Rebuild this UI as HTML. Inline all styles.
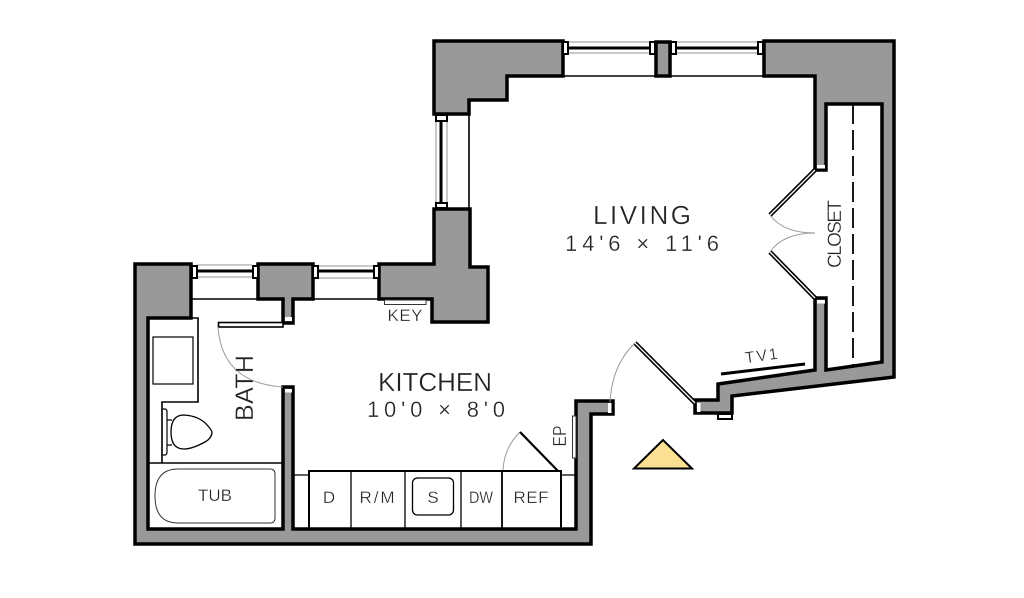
<!DOCTYPE html>
<html><head><meta charset="utf-8"><style>
html,body{margin:0;padding:0;background:#fff;width:1024px;height:598px;overflow:hidden}
svg{display:block}
text{font-family:"Liberation Sans",sans-serif;fill:#222;text-anchor:middle;stroke:#fff;stroke-width:.3;paint-order:fill}
.w{fill:#999;stroke:#000;stroke-width:3.5;stroke-linejoin:miter}
.c{fill:#fff;stroke:#000;stroke-width:2}
.g{stroke:#aaa;stroke-width:1.3;fill:none}
.t{stroke:#000;stroke-width:1.6;fill:none}
.k{stroke:#000;stroke-width:3;fill:none}
.a{stroke:#999;stroke-width:1;fill:none}
</style></head><body>
<svg width="1024" height="598" viewBox="0 0 1024 598" xmlns="http://www.w3.org/2000/svg">
<rect width="1024" height="598" fill="#fff"/>
<!-- windows -->
<path class="g" d="M568 42H757M568 53H757M436 121V203M447 121V203M197 265H252M197 277H252M318 266H373M318 278H373"/>
<path class="k" d="M568 48H650M676 48H758M441 120V204M197 271H253M318 271H374"/>
<path class="t" d="M563 76H765M469 114V209M191 299H258M313 299H379"/>
<!-- walls -->
<polygon class="w" points="434,41 563,41 563,76 507,76 507,100 469,100 469,114 434,114"/>
<rect class="w" x="656" y="42" width="14" height="34"/>
<polygon class="w" points="764,41 894,41 894,377 732,396 732,413 695,413 695,400 718,400 718,384 815,370 815,298 826,298 826,370 882,362 882,104 826,104 826,170 815,170 815,76 764,76"/>
<polygon class="w" points="135,544 591,544 591,414 613,414 613,401 576,401 576,529 293,529 293,387 283,387 283,529 148,529 148,318 191,318 191,264 135,264"/>
<polygon class="w" points="258,264 313,264 313,299 293,299 293,323 283,323 283,299 258,299"/>
<polygon class="w" points="379,264 434,264 434,209 470,209 470,267 488,267 488,322 432,322 432,299 379,299"/>
<!-- window caps -->
<rect class="c" x="563" y="42" width="5" height="12"/>
<rect class="c" x="650" y="42" width="5" height="12"/>
<rect class="c" x="671" y="42" width="5" height="12"/>
<rect class="c" x="758" y="42" width="5" height="12"/>
<rect class="c" x="436" y="115" width="11" height="6"/>
<rect class="c" x="436" y="203" width="11" height="5"/>
<rect class="c" x="192" y="266" width="5" height="12"/>
<rect class="c" x="253" y="266" width="5" height="12"/>
<rect class="c" x="313" y="266" width="5" height="12"/>
<rect class="c" x="374" y="266" width="5" height="12"/>
<!-- door caps -->
<rect x="285" y="317" width="7" height="4" fill="#fff"/>
<rect x="285" y="389" width="7" height="3.500" fill="#fff"/>
<rect x="817" y="165" width="8" height="3.500" fill="#fff"/>
<rect x="817" y="300" width="8" height="3.500" fill="#fff"/>
<rect x="697" y="403" width="3.500" height="9" fill="#fff"/>
<rect x="608" y="403" width="3.500" height="10" fill="#fff"/>
<rect class="c" x="718" y="414" width="14" height="5"/>
<!-- doors -->
<path d="M815 170L770 215M815 298L770 252M695 403L635 343" stroke="#000" stroke-width="4.500" fill="none"/>
<path d="M815 170L770 215M815 298L770 252M695 403L635 343" stroke="#fff" stroke-width="1.300" fill="none"/>
<rect x="218.500" y="322.500" width="64.500" height="4.500" fill="#fff" stroke="#000" stroke-width="1.600"/>
<path class="a" d="M770 215Q783 233 815 233Q783 233 770 252"/>
<path class="a" d="M635 343Q612 365 610 402"/>
<path class="a" d="M218 327Q222 383 283 387"/>
<path class="a" d="M520 432Q504 448 503 470"/>
<!-- closet dashes -->
<line x1="853" y1="104" x2="853" y2="368" stroke="#000" stroke-width="1.800" stroke-dasharray="20 6"/>
<!-- TV line -->
<line x1="721" y1="374" x2="805" y2="364" stroke="#000" stroke-width="3"/>
<!-- key and EP -->
<rect x="384.500" y="300" width="41.500" height="4.500" fill="#fff" stroke="#333" stroke-width="1"/>
<rect x="572.500" y="416" width="3.500" height="42" fill="#fff" stroke="#333" stroke-width="1"/>
<!-- triangle -->
<polygon points="663,440 634,468.500 692,468.500" fill="#fbdf93" stroke="#000" stroke-width="2"/>
<!-- bathroom fixtures -->
<path class="t" d="M148 318H198V402H162V463M148 463H283" stroke-width="1.400"/>
<rect x="153" y="337" width="40" height="47" fill="none" stroke="#000" stroke-width="1.200"/>
<path d="M162.500 409H165Q167 409 167 412V452Q167 455 165 455H162.500" fill="none" stroke="#000" stroke-width="1.200"/>
<path d="M167 420H172M167 445H172" stroke="#000" stroke-width="1.200"/>
<path d="M171 432Q171 415 184 415Q200 416 208 426Q212 431 212 432Q212 438 205 442Q192 449 184 449Q171 449 171 432Z" fill="#fff" stroke="#000" stroke-width="1.300"/>
<path d="M178 469H270Q275 469 275 474V518Q275 523 270 523H178Q155 523 155 496Q155 469 178 469Z" fill="none" stroke="#333" stroke-width="1"/>
<!-- kitchen fixtures -->
<path d="M293 475H309M561 475H577" stroke="#000" stroke-width="1.200"/>
<path d="M309 529V471H561V529" fill="none" stroke="#000" stroke-width="2"/>
<path d="M351 471V529M405 471V529M461 471V529" stroke="#000" stroke-width="1.300"/>
<path d="M502 471V529" stroke="#000" stroke-width="1.800"/>
<rect x="412.500" y="478" width="41" height="37" rx="5" fill="none" stroke="#000" stroke-width="1.300"/>
<line x1="520" y1="432" x2="558" y2="471" stroke="#000" stroke-width="2.200"/>
<!-- text -->
<text x="642" y="224" font-size="26" textLength="98" lengthAdjust="spacing">LIVING</text>
<text x="642" y="251" font-size="22" textLength="154" lengthAdjust="spacing">14'6 × 11'6</text>
<text x="435" y="391" font-size="26" textLength="114" lengthAdjust="spacing">KITCHEN</text>
<text x="436" y="417" font-size="22" textLength="138" lengthAdjust="spacing">10'0 × 8'0</text>
<text transform="translate(253,388) rotate(-90)" font-size="25" textLength="66" lengthAdjust="spacing">BATH</text>
<text transform="translate(841,234) rotate(-90)" font-size="19" textLength="68" lengthAdjust="spacing">CLOSET</text>
<text transform="translate(566,436) rotate(-90)" font-size="18" textLength="21" lengthAdjust="spacingAndGlyphs">EP</text>
<text transform="translate(762,361) rotate(-8)" font-size="16" textLength="33" lengthAdjust="spacing">TV1</text>
<text x="405" y="321" font-size="17" textLength="35" lengthAdjust="spacing">KEY</text>
<text x="215" y="501" font-size="17" textLength="34" lengthAdjust="spacing">TUB</text>
<text x="329" y="503" font-size="17">D</text>
<text x="377" y="503" font-size="17" textLength="35" lengthAdjust="spacing">R/M</text>
<text x="433" y="503" font-size="17">S</text>
<text x="481" y="503" font-size="17" textLength="24" lengthAdjust="spacingAndGlyphs">DW</text>
<text x="531" y="503" font-size="17" textLength="35" lengthAdjust="spacing">REF</text>
</svg>
</body></html>
